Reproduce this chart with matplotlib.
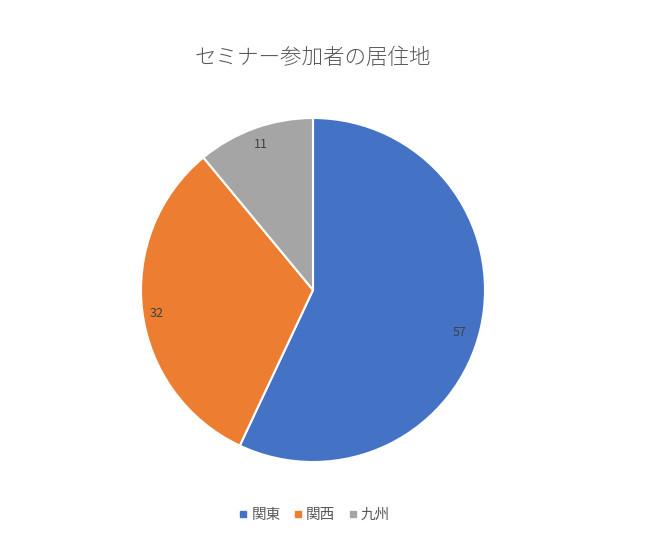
import numpy as np
import matplotlib.pyplot as plt
from matplotlib.lines import Line2D

plt.rcParams['font.family'] = ['Noto Sans CJK JP', 'DejaVu Sans']

# data
categories = ['関東', '関西', '九州']
values = [57, 32, 11]
colors = ['#4472C4', '#ED7D31', '#A5A5A5']
title = 'セミナー参加者の居住地'


def main():
    W, H = 649, 559
    fig = plt.figure(figsize=(W / 100, H / 100), dpi=100)
    cx, cy, r = 313, 290, 172
    ax = fig.add_axes([(cx - r) / W, (H - cy - r) / H, 2 * r / W, 2 * r / H])

    wedges, _ = ax.pie(values, colors=colors, startangle=90, counterclock=False,
                       wedgeprops=dict(edgecolor='white', linewidth=1.5))
    ax.set_xlim(-1, 1)
    ax.set_ylim(-1, 1)
    ax.set_aspect('equal')

    # label distance / angle nudge (excel best fit)
    dists = [0.89, 0.92, 0.9]
    nudge = [-3.7, 1.5, 0]
    for w, v, d, n in zip(wedges, values, dists, nudge):
        ang = np.deg2rad((w.theta1 + w.theta2) / 2 + n)
        ax.text(d * np.cos(ang), d * np.sin(ang), str(v), ha='center', va='center',
                fontsize=9, color='#404040')

    fig.text(cx / W, 1 - 58 / H, title, ha='center', va='center', fontsize=15.5,
             color='#595959', fontweight='light')

    handles = [Line2D([], [], marker='s', linestyle='none', markersize=5,
                      markerfacecolor=c, markeredgecolor=c) for c in colors]
    fig.legend(handles, categories, loc='center', bbox_to_anchor=(cx / W, 1 - 515 / H),
               ncol=3, frameon=False, fontsize=10.5, labelcolor='#595959',
               handletextpad=0.05, columnspacing=0.7, handlelength=1)

    fig.savefig('out.png', dpi=100)


if __name__ == "__main__":
    main()
